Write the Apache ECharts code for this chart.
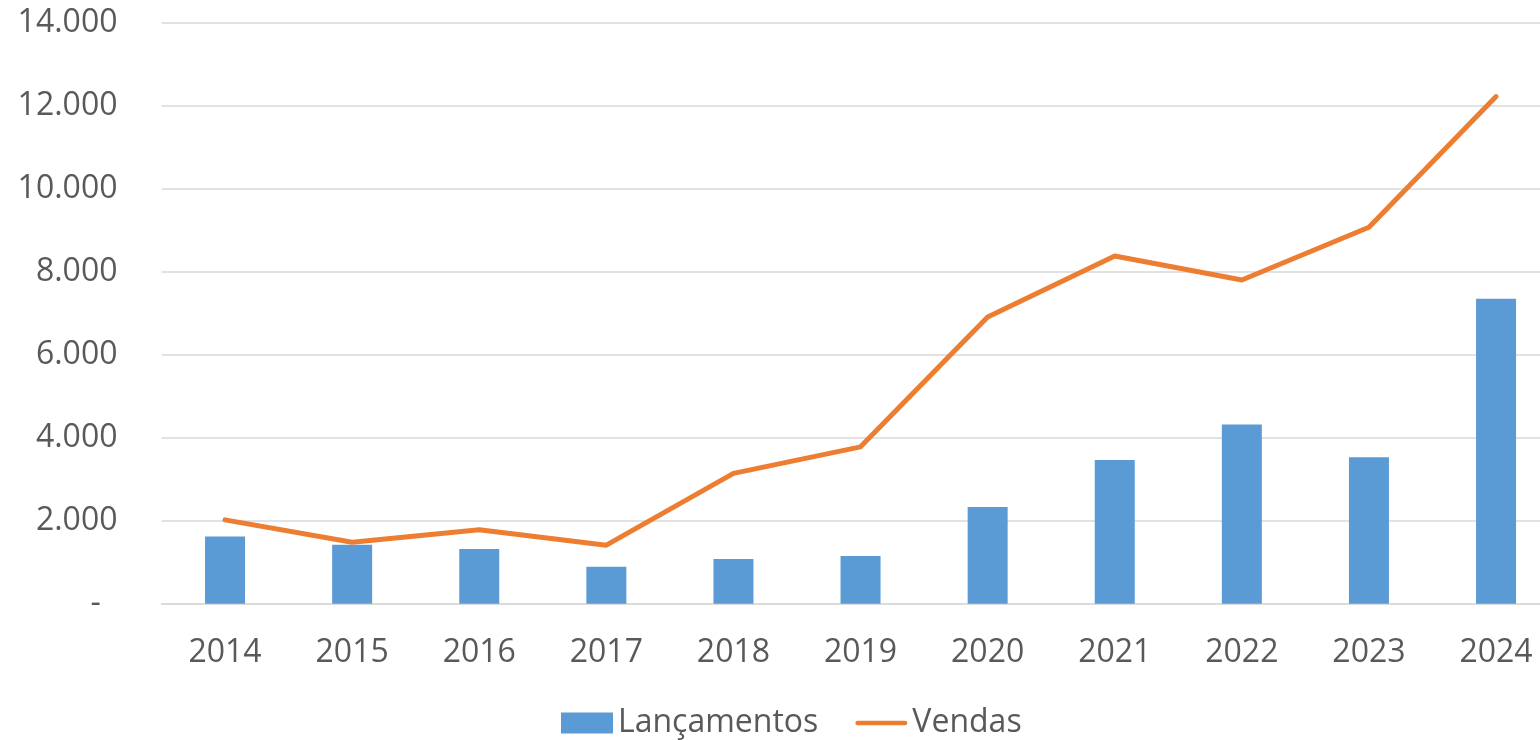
<!DOCTYPE html>
<html>
<head>
<meta charset="utf-8">
<script src="https://cdn.jsdelivr.net/npm/echarts@6/dist/echarts.min.js"></script>
<style>
  html, body { margin: 0; padding: 0; background: #fff; }
  #chart { width: 1540px; height: 740px; }
</style>
</head>
<body>
<div id="chart"></div>
<script>
// dados
var anos = ['2014', '2015', '2016', '2017', '2018', '2019', '2020', '2021', '2022', '2023', '2024']
var lancamentos = [1620, 1420, 1320, 890, 1080, 1150, 2330, 3460, 4320, 3530, 7350]
var vendas = [2020, 1480, 1780, 1410, 3140, 3780, 6910, 8380, 7800, 9070, 12220]

var textColor = '#595959'
var gridColor = '#D9D9D9'
var fontFamily = '"Open Sans", sans-serif'

function fmtMilhar(v) {
  if (v === 0) return '-  '
  return String(v).replace(/\B(?=(\d{3})+(?!\d))/g, '.')
}

var chart = echarts.init(document.getElementById('chart'))
chart.setOption({
  animation: false,
  textStyle: { fontFamily: fontFamily },
  grid: {
    left: 161.5,
    right: -19.6,
    top: 22.7,
    bottom: 136.3,
    containLabel: false,
    outerBoundsMode: 'none'
  },
  legend: {
    left: 556,
    top: 702,
    itemWidth: 52,
    itemHeight: 21,
    itemGap: 37,
    textStyle: { color: textColor, fontSize: 32, fontFamily: fontFamily },
    data: [
      { name: 'Lançamentos', icon: 'rect' },
      {
        name: 'Vendas',
        icon: 'path://M2.5,0 L52.5,0 A2.5,2.5 0 0 1 52.5,5 L2.5,5 A2.5,2.5 0 0 1 2.5,0 Z',
        lineStyle: { width: 5, cap: 'round' }
      }
    ]
  },
  xAxis: {
    type: 'category',
    data: anos,
    boundaryGap: true,
    axisTick: { show: false },
    axisLine: { lineStyle: { color: gridColor, width: 1.5 } },
    axisLabel: { color: textColor, fontSize: 32, margin: 33, interval: 0 }
  },
  yAxis: {
    type: 'value',
    min: 0,
    max: 14000,
    interval: 2000,
    axisLine: { show: false },
    axisTick: { show: false },
    splitLine: { lineStyle: { color: gridColor, width: 1.5 } },
    axisLabel: { color: textColor, fontSize: 32, margin: 44, formatter: fmtMilhar }
  },
  series: [
    {
      name: 'Lançamentos',
      type: 'bar',
      data: lancamentos,
      barWidth: 40,
      itemStyle: { color: '#5B9BD5' }
    },
    {
      name: 'Vendas',
      type: 'line',
      data: vendas,
      symbol: 'none',
      itemStyle: { color: '#ED7D31' },
      lineStyle: { color: '#ED7D31', width: 5, cap: 'round', join: 'round' }
    }
  ]
})
</script>
</body>
</html>
